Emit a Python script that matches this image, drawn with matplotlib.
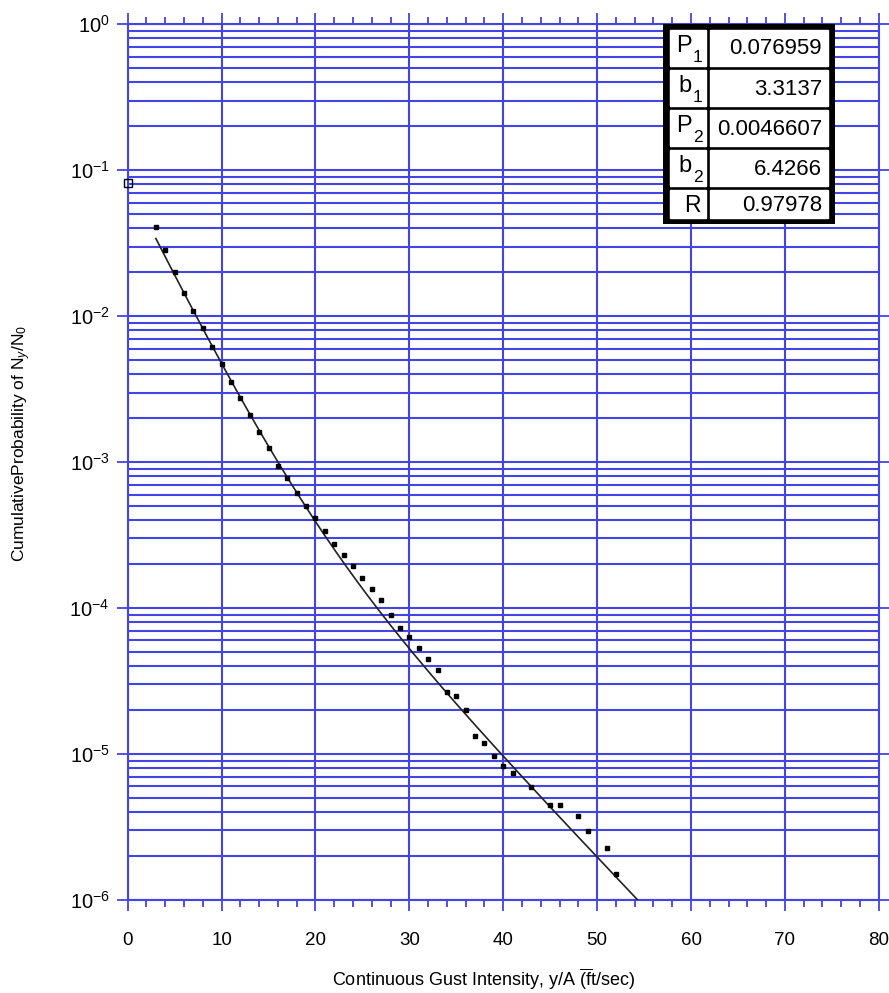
import numpy as np
import matplotlib.pyplot as plt
from matplotlib.ticker import MultipleLocator, LogLocator, NullFormatter
from matplotlib.patches import Rectangle

plt.rcParams['font.family'] = ['Liberation Sans', 'DejaVu Sans']
plt.rcParams['mathtext.fontset'] = 'custom'
plt.rcParams['mathtext.rm'] = 'Liberation Sans'
plt.rcParams['mathtext.it'] = 'Liberation Sans:italic'
plt.rcParams['mathtext.bf'] = 'Liberation Sans:bold'

gust = [3, 4, 5, 6, 7, 8, 9, 10, 11, 12, 13, 14, 15, 16, 17, 18, 19, 20,
        21, 22, 23, 24, 25, 26, 27, 28, 29, 30, 31, 32, 33, 34, 35, 36, 37,
        38, 39, 40, 41, 43, 45, 46, 48, 49, 51, 52]
prob = [0.0411, 0.0284, 0.0202, 0.0145, 0.0109, 0.00828, 0.00619, 0.00471,
        0.00356, 0.00275, 0.00211, 0.00160, 0.00125, 0.000948, 0.000777,
        0.000613, 0.000502, 0.000413, 0.000335, 0.000275, 0.000232, 0.000195,
        0.000161, 0.000136, 0.000113, 8.95e-5, 7.3e-5, 6.29e-5, 5.37e-5,
        4.5e-5, 3.78e-5, 2.66e-5, 2.48e-5, 2.0e-5, 1.33e-5, 1.19e-5, 9.68e-6,
        8.22e-6, 7.36e-6, 5.97e-6, 4.48e-6, 4.48e-6, 3.76e-6, 2.98e-6,
        2.27e-6, 1.51e-6]

# the lone point at zero gust
zero_gust = [0]
zero_prob = [0.0822]

# fit parameters shown in the table
param_names = [('P', '1'), ('b', '1'), ('P', '2'), ('b', '2'), ('R', '')]
param_text = ['0.076959', '3.3137', '0.0046607', '6.4266', '0.97978']
P1, b1, P2, b2 = [float(v) for v in param_text[:4]]

blue = '#4444e4'

fig = plt.figure(figsize=(8.89, 9.93), dpi=100)
W, H = 889, 993
ax = fig.add_axes([127.7 / W, 1 - 900 / H, (878.8 - 127.7) / W, (900 - 24.3) / H])

# fit curve from the table's parameters
xf = np.linspace(3, 60, 400)
yf = P1 * np.exp(-xf / b1) + P2 * np.exp(-xf / b2)
ax.plot(xf, yf, color='#222222', lw=1.2, zorder=3)

ax.plot(gust, prob, ls='none', marker='s', ms=2.6, color='black', zorder=4)
ax.plot(zero_gust, zero_prob, ls='none', marker='s', ms=5.5, mfc='none',
        mec='black', mew=1.0, zorder=5, clip_on=False)

ax.set_yscale('log')
ax.set_xlim(0, 80)
ax.set_ylim(1e-6, 1)

ax.xaxis.set_major_locator(MultipleLocator(10))
ax.xaxis.set_minor_locator(MultipleLocator(2))
ax.yaxis.set_major_locator(LogLocator(base=10, numticks=10))
ax.yaxis.set_minor_locator(LogLocator(base=10, subs=range(2, 10), numticks=20))
ax.yaxis.set_minor_formatter(NullFormatter())

ax.grid(True, which='major', axis='x', color=blue, lw=1.5)
ax.grid(True, which='both', axis='y', color=blue, lw=1.5)
ax.set_axisbelow(True)

ax.tick_params(axis='x', which='both', direction='out', top=True, bottom=True,
               color=blue, width=1.3, labelsize=13.5, pad=15)
ax.tick_params(axis='x', which='major', length=8)
ax.tick_params(axis='x', which='minor', length=5)
ax.tick_params(axis='y', which='major', direction='out', left=True, right=True,
               color=blue, width=1.3, length=8, labelsize=14.5, pad=5)
ax.tick_params(axis='y', which='minor', length=0)
for s in ax.spines.values():
    s.set_color(blue)
    s.set_linewidth(1.5)

fig.text(22 / W, 1 - 443 / H, r'CumulativeProbability of N$_y$/N$_0$',
         rotation=90, ha='center', va='center', fontsize=12.5)
fig.text(484 / W, 1 - 979 / H,
         r'Continuous Gust Intensity, y/A $\overline{\mathrm{(f}}$t/sec)',
         ha='center', va='center', fontsize=13)

# parameter table
tx0, tx1, ty0, ty1 = 663.3, 835.0, 24.3, 224.0
tax = fig.add_axes([tx0 / W, 1 - ty1 / H, (tx1 - tx0) / W, (ty1 - ty0) / H])
tax.set_xlim(tx0, tx1)
tax.set_ylim(ty1, ty0)
tax.axis('off')
tax.add_patch(Rectangle((tx0, ty0), tx1 - tx0, ty1 - ty0, color='black'))
row_tops = [30, 70.5, 110.5, 150.5, 190.5]
row_h = [36.5, 36, 36, 36, 28]
for i, (name, val) in enumerate(zip(param_names, param_text)):
    top, h = row_tops[i], row_h[i]
    tax.add_patch(Rectangle((670, top), 36, h, color='white'))
    tax.add_patch(Rectangle((710, top), 118, h, color='white'))
    letter, sub = name
    if sub:
        tax.text(692, top + h * 0.6, letter, ha='right', va='baseline', fontsize=17)
        tax.text(693, top + h * 0.88, sub, ha='left', va='baseline', fontsize=12.5)
    else:
        tax.text(701, top + h * 0.52, letter, ha='right', va='center', fontsize=16.5)
    tax.text(822, top + h * 0.52, val, ha='right', va='center', fontsize=16)

fig.savefig('out.png', dpi=100)
